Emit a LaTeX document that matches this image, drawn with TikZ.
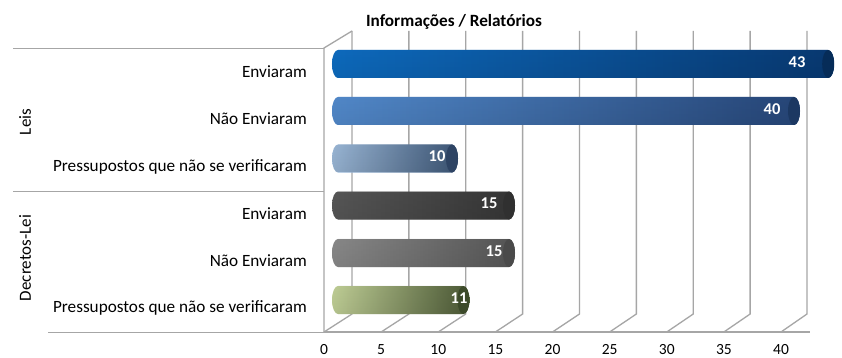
\documentclass[tikz,border=0pt]{standalone}
\usepackage{fontspec}
\setmainfont{Carlito}
\usetikzlibrary{fadings}
\tikzfading[name=cylfade, top color=transparent!20, middle color=transparent!100, bottom color=transparent!0]
\definecolor{gridgray}{HTML}{A6A6A6}
\definecolor{bAl}{HTML}{1080E4}\definecolor{bAm}{HTML}{0A66C4}\definecolor{bAr}{HTML}{0A4488}\definecolor{bAc}{HTML}{062C58}
\definecolor{bBl}{HTML}{62A4F2}\definecolor{bBm}{HTML}{4684D2}\definecolor{bBr}{HTML}{2E5490}\definecolor{bBc}{HTML}{1C3862}
\definecolor{bCl}{HTML}{B8DAFF}\definecolor{bCm}{HTML}{7EA6DA}\definecolor{bCr}{HTML}{48668C}\definecolor{bCc}{HTML}{2E4464}
\definecolor{bDl}{HTML}{686868}\definecolor{bDm}{HTML}{555555}\definecolor{bDr}{HTML}{404040}\definecolor{bDc}{HTML}{303030}
\definecolor{bEl}{HTML}{A4A4A4}\definecolor{bEm}{HTML}{878787}\definecolor{bEr}{HTML}{666666}\definecolor{bEc}{HTML}{4A4A4A}
\definecolor{bFl}{HTML}{E6F8B4}\definecolor{bFm}{HTML}{AAC282}\definecolor{bFr}{HTML}{5A6A40}\definecolor{bFc}{HTML}{3C4A2A}
\newcommand{\drawcyl}[7]{% #1 yc, #2 value, #3 left, #4 middle, #5 right, #6 cap, #7 name
  \pgfmathsetmacro{\xe}{338+11.4*#2}
  \pgfmathsetmacro{\yt}{#1-14}
  \pgfmathsetmacro{\yb}{#1+14}
  \shade[left color=#3, middle color=#4, right color=#5] (338,\yt) -- (\xe,\yt) arc[start angle=90, end angle=-90, x radius=6pt, y radius=14pt] -- (338,\yb) arc[start angle=270, end angle=90, x radius=6pt, y radius=14pt] -- cycle;
  \fill[black, fill opacity=0.22, path fading=cylfade] (338,\yt) -- (\xe,\yt) arc[start angle=90, end angle=-90, x radius=6pt, y radius=14pt] -- (338,\yb) arc[start angle=270, end angle=90, x radius=6pt, y radius=14pt] -- cycle;
  \fill[#6] (\xe,#1) ellipse[x radius=6pt, y radius=14pt];
  \coordinate (#7) at (\xe,#1);
}
\begin{document}
\begin{tikzpicture}[x=1pt,y=-1pt,
  grid/.style={draw=gridgray, line width=1.3pt},
  sep/.style={draw=gridgray, line width=1pt},
  catlabel/.style={anchor=east, inner sep=0pt, font=\fontsize{17.2}{19}\selectfont, text=black},
  grplabel/.style={rotate=90, inner sep=0pt, font=\fontsize{17}{19}\selectfont, text=black},
  ticklabel/.style={inner sep=0pt, font=\fontsize{15.5}{18}\selectfont, text=black},
  vallabel/.style={inner sep=0pt, font=\bfseries\fontsize{16.5}{19}\selectfont, text=white},
  titlelabel/.style={inner sep=0pt, font=\bfseries\fontsize{17.2}{19}\selectfont, text=black}]
\useasboundingbox (0,0) rectangle (842,358);
\fill[white] (0,0) rectangle (842,358);
% title
\node[titlelabel] (title) at (454,22) {Informações / Relatórios};
% back wall gridlines and floor diagonals
\foreach \v in {0,5,...,40}{
  \draw[grid] (352+11.375*\v,31) -- (352+11.375*\v,314) -- (324+11.425*\v,332);
}
% left wall
\draw[grid] (352,31) -- (324,48) -- (324,332);
% floor front line
\draw[grid] (324,332) -- (810,332);
% left label separators
\draw[sep] (13,49) -- (324,49);
\draw[sep] (13,191) -- (324,191);
\draw[sep] (48,332) -- (324,332);
% tick labels
\foreach \v in {0,5,...,40}{
  \node[ticklabel] (t\v) at (324+11.425*\v,349.5) {\v};
}
% category labels
\node[catlabel] (c1) at (307,72) {Enviaram};
\node[catlabel] (c2) at (307,119) {Não Enviaram};
\node[catlabel] (c3) at (307,166.5) {Pressupostos que não se verificaram};
\node[catlabel] (c4) at (307,213.5) {Enviaram};
\node[catlabel] (c5) at (307,261) {Não Enviaram};
\node[catlabel] (c6) at (307,308) {Pressupostos que não se verificaram};
\node[grplabel] (g1) at (25,122) {Leis};
\node[grplabel] (g2) at (25,258) {Decretos-Lei};
% bars
\drawcyl{64}{43}{bAl}{bAm}{bAr}{bAc}{b1}
\drawcyl{111}{40}{bBl}{bBm}{bBr}{bBc}{b2}
\drawcyl{158.5}{10}{bCl}{bCm}{bCr}{bCc}{b3}
\drawcyl{205.5}{15}{bDl}{bDm}{bDr}{bDc}{b4}
\drawcyl{253}{15}{bEl}{bEm}{bEr}{bEc}{b5}
\drawcyl{300}{11}{bFl}{bFm}{bFr}{bFc}{b6}
% value labels
\node[vallabel] (v1) at (797,62) {43};
\node[vallabel] (v2) at (772,109) {40};
\node[vallabel] (v3) at (437,156.5) {10};
\node[vallabel] (v4) at (489,203.5) {15};
\node[vallabel] (v5) at (494,251) {15};
\node[vallabel] (v6) at (459,298) {11};
\end{tikzpicture}
\end{document}
